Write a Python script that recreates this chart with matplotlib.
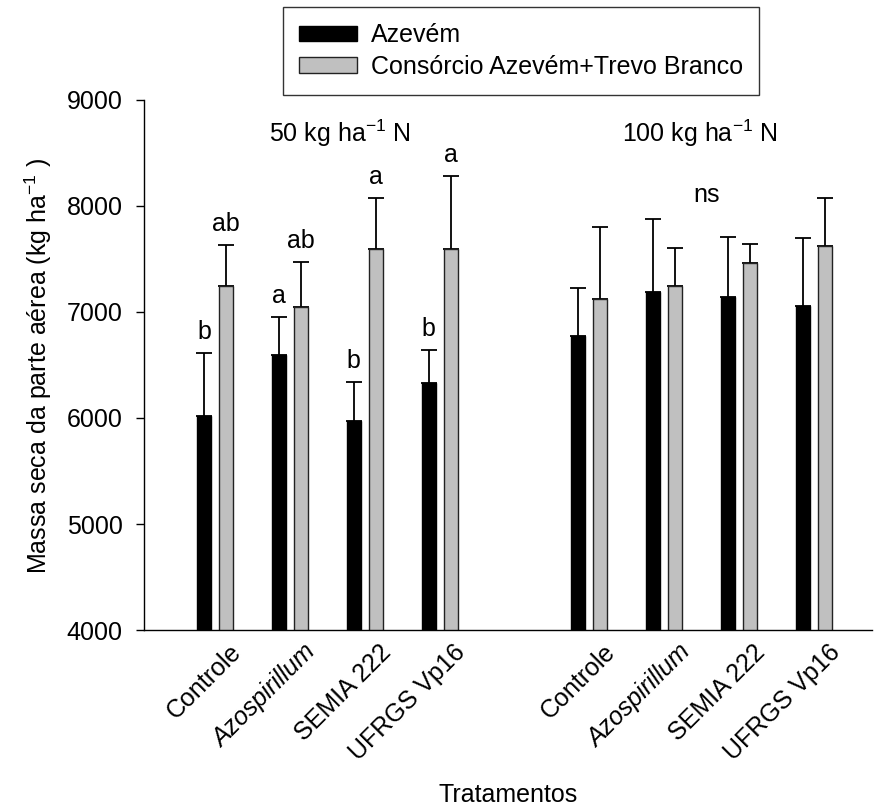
import matplotlib
matplotlib.use("Agg")
import matplotlib.pyplot as plt
import matplotlib.transforms as mtransforms
import numpy as np

plt.rcParams['font.family'] = ['Liberation Sans', 'DejaVu Sans']
plt.rcParams['mathtext.fontset'] = 'custom'
plt.rcParams['mathtext.rm'] = 'Liberation Sans'
plt.rcParams['mathtext.it'] = 'Liberation Sans:italic'

categories = ["Controle", "Azospirillum", "SEMIA 222", "UFRGS Vp16",
              "Controle", "Azospirillum", "SEMIA 222", "UFRGS Vp16"]
azevem = [6022, 6594, 5969, 6327, 6771, 7192, 7138, 7059]
azevem_err = [589, 362, 371, 318, 453, 683, 570, 642]
consorcio = [7245, 7044, 7594, 7597, 7125, 7242, 7459, 7623]
consorcio_err = [390, 428, 481, 686, 677, 365, 180, 452]
letters_azevem = ["b", "a", "b", "b", "", "", "", ""]
letters_consorcio = ["ab", "ab", "a", "a", "", "", "", ""]
group_labels = ["50 kg ha$^{-1}$ N", "100 kg ha$^{-1}$ N"]
series_names = ["Azevém", "Consórcio Azevém+Trevo Branco"]

FS = 18
fig = plt.figure(figsize=(8.74, 8.10), dpi=100)
ax = fig.add_axes([144/874, 1 - 630/810, (872 - 144)/874, 530/810])

pos = np.array([0, 1, 2, 3, 5, 6, 7, 8], dtype=float)
w = 0.187
off = 0.147

zeros = np.zeros(len(pos))
b1 = ax.bar(pos - off, azevem, w, color='black', edgecolor='black', linewidth=1,
            label=series_names[0], zorder=2)
b2 = ax.bar(pos + off, consorcio, w, color='#c0c0c0', edgecolor='#222222', linewidth=1,
            label=series_names[1], zorder=2)
ax.errorbar(pos - off, azevem, yerr=[zeros, azevem_err], fmt='none', ecolor='black',
            elinewidth=1.3, capsize=6, capthick=1.3, zorder=1)
ax.errorbar(pos + off, consorcio, yerr=[zeros, consorcio_err], fmt='none', ecolor='black',
            elinewidth=1.3, capsize=6, capthick=1.3, zorder=1)

for x, m, e, t in zip(pos - off, azevem, azevem_err, letters_azevem):
    if t:
        ax.annotate(t, (x, m + e), xytext=(0, 10), textcoords='offset points',
                    ha='center', va='baseline', fontsize=FS)
for x, m, e, t in zip(pos + off, consorcio, consorcio_err, letters_consorcio):
    if t:
        ax.annotate(t, (x, m + e), xytext=(0, 10), textcoords='offset points',
                    ha='center', va='baseline', fontsize=FS)

ax.text(pos[:4].mean() + 0.17, 8600, group_labels[0], ha='center', va='baseline', fontsize=FS)
ax.text(pos[4:].mean() - 0.03, 8600, group_labels[1], ha='center', va='baseline', fontsize=FS)
ax.text(pos[4:].mean() + 0.07, 8040, "ns", ha='center', va='baseline', fontsize=FS)

ax.set_ylim(4000, 9000)
ax.set_xlim(-0.947, 8.773)
ax.set_yticks([4000, 5000, 6000, 7000, 8000, 9000])
ax.tick_params(axis='y', direction='out', length=6, width=1, pad=9.5, labelsize=FS)
ax.tick_params(axis='x', length=0, labelsize=FS)
ax.set_xticks(pos)
ax.set_xticklabels(categories, rotation=45, ha='right', va='center', rotation_mode='anchor')
offset = mtransforms.ScaledTranslation(16/72, -10/72, fig.dpi_scale_trans)
for lab in ax.get_xticklabels():
    lab.set_transform(lab.get_transform() + offset)
    if lab.get_text() == "Azospirillum":
        lab.set_style('italic')

for s in ['top', 'right']:
    ax.spines[s].set_visible(False)
for s in ['left', 'bottom']:
    ax.spines[s].set_linewidth(1)

ax.set_ylabel("Massa seca da parte aérea (kg ha$^{-1}$ )", fontsize=FS)
ax.yaxis.set_label_coords(54/874, 1 - 366/810, transform=fig.transFigure)
fig.text(508/874, 1 - 795/810, "Tratamentos", ha='center', va='center', fontsize=FS)

leg = fig.legend(handles=[b1, b2], labels=series_names, loc='upper center',
                 bbox_to_anchor=(521/874, 1 - 7/810), fontsize=FS, frameon=True,
                 fancybox=False, edgecolor='black', handlelength=2.3, handleheight=0.56,
                 handletextpad=0.55, labelspacing=0.3, borderpad=0.65, borderaxespad=0)
leg.get_frame().set_linewidth(1)

fig.savefig("out.png", dpi=100)
